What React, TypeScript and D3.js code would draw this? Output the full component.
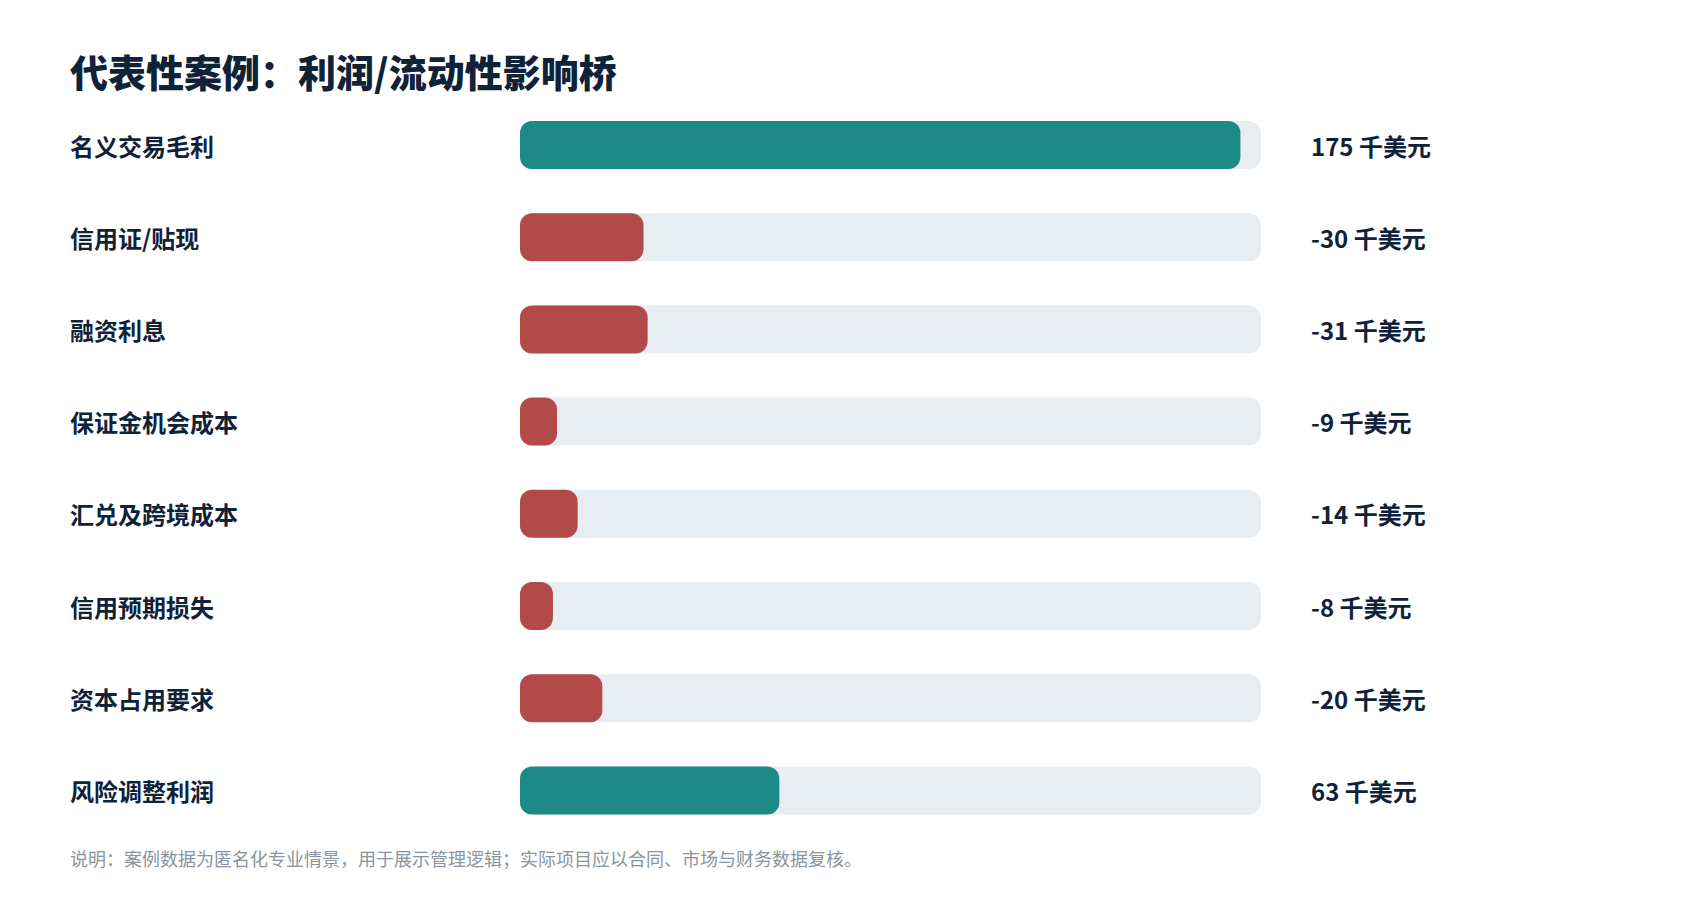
import React from "react";
import * as d3 from "d3";

const categories = ["名义交易毛利", "信用证/贴现", "融资利息", "保证金机会成本", "汇兑及跨境成本", "信用预期损失", "资本占用要求", "风险调整利润"];
const values = [175, -30, -31, -9, -14, -8, -20, 63];
const unit = "千美元";
const title = "代表性案例：利润/流动性影响桥";
const note = "说明：案例数据为匿名化专业情景，用于展示管理逻辑；实际项目应以合同、市场与财务数据复核。";

const W = 1700;
const H = 900;
const FONT = "'Noto Sans CJK SC', 'Noto Sans', sans-serif";

export default function App() {
  const x = d3.scaleLinear().domain([0, 180]).range([520, 1261]);
  const bh = 48;
  return (
    <svg width={W} height={H} style={{ position: "absolute", left: 0, top: 0, background: "#fff" }} fontFamily={FONT}>
      <text x={70} y={70} fontSize={38} fontWeight={900} fill="#0f2238" dominantBaseline="central">{title}</text>
      {categories.map((c, i) => {
        const v = values[i];
        const cy = 145 + i * 92.2;
        const top = cy - bh / 2;
        return (
          <g key={c}>
            <text x={70} y={cy} fontSize={24} fontWeight={700} fill="#0f2238" dominantBaseline="central">{c}</text>
            <rect x={x(0)} y={top} width={x(180) - x(0)} height={bh} rx={12} fill="#e8edf1" />
            <rect x={x(0)} y={top} width={x(Math.abs(v)) - x(0)} height={bh} rx={12} fill={v >= 0 ? "#1e8a87" : "#b24a4a"} />
            <text x={1311} y={cy} fontSize={24} fontWeight={700} fill="#0f2238" dominantBaseline="central">{`${v} ${unit}`}</text>
          </g>
        );
      })}
      <text x={70} y={858} fontSize={18} fill="#8a949e" dominantBaseline="central">{note}</text>
    </svg>
  );
}
